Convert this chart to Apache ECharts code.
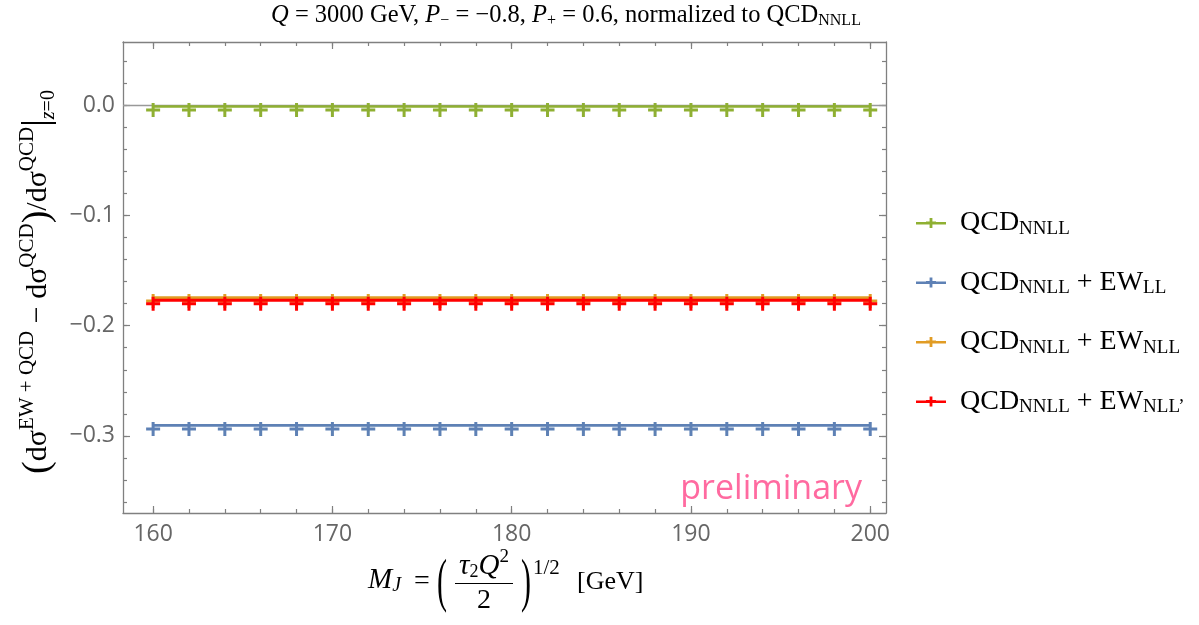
<!DOCTYPE html>
<html>
<head>
<meta charset="utf-8">
<script src="https://cdn.jsdelivr.net/npm/echarts@6/dist/echarts.min.js"></script>
<style>html,body{margin:0;padding:0;background:#fff}#c{width:1199px;height:625px}</style>
</head>
<body>
<div id="c"></div>
<script>
// ---- data ----
const xValues = [160,162,164,166,168,170,172,174,176,178,180,182,184,186,188,190,192,194,196,198,200];
const qcdNNLL      = [-0.001,-0.001,-0.001,-0.001,-0.001,-0.001,-0.001,-0.001,-0.001,-0.001,-0.001,-0.001,-0.001,-0.001,-0.001,-0.001,-0.001,-0.001,-0.001,-0.001,-0.001];
const qcdEWLL      = [-0.2905,-0.2905,-0.2905,-0.2905,-0.2905,-0.2905,-0.2905,-0.2905,-0.2905,-0.2905,-0.2905,-0.2905,-0.2905,-0.2905,-0.2905,-0.2905,-0.2905,-0.2905,-0.2905,-0.2905,-0.2905];
const qcdEWNLL     = [-0.1745,-0.1745,-0.1745,-0.1745,-0.1745,-0.1745,-0.1745,-0.1745,-0.1745,-0.1745,-0.1745,-0.1745,-0.1745,-0.1745,-0.1745,-0.1745,-0.1745,-0.1745,-0.1745,-0.1745,-0.1745];
const qcdEWNLLp    = [-0.177,-0.177,-0.177,-0.177,-0.177,-0.177,-0.177,-0.177,-0.177,-0.177,-0.177,-0.177,-0.177,-0.177,-0.177,-0.177,-0.177,-0.177,-0.177,-0.177,-0.177];
const seriesNames  = ['QCD_NNLL','QCD_NNLL+EW_LL','QCD_NNLL+EW_NLL',"QCD_NNLL+EW_NLL'"];
const xMajorTicks  = [160,170,180,190,200];
const xMinorTicks  = [160,162,164,166,168,170,172,174,176,178,180,182,184,186,188,190,192,194,196,198,200];
const yMajorTicks  = [0,-0.1,-0.2,-0.3];
const yMinorTicks  = [0.04,0.02,0,-0.02,-0.04,-0.06,-0.08,-0.1,-0.12,-0.14,-0.16,-0.18,-0.2,-0.22,-0.24,-0.26,-0.28,-0.3,-0.32,-0.34,-0.36];

// ---- style ----
const SERIF = '"Liberation Serif", "DejaVu Serif", serif';
const SANS = '"Open Sans", "Noto Sans", sans-serif';
const colors = ['#8fb032','#5e81b5','#e19c24','#ff0000'];
const frameColor = '#808080';
const plusPath = 'path://M0,5.5H14V8.5H0Z M5.5,0H8.5V14H5.5Z';
const legendIcon = 'path://M0,4H30V6.4H0Z M13.6,0H16.4V10H13.6Z M10,3.4H20V4.4H10Z';

const chart = echarts.init(document.getElementById('c'), null, {renderer:'canvas'});

function xAx(pos, ticks, len, labels, line) {
  return {
    type:'value', position:pos, min:158.32, max:200.88,
    axisLine:{show:line, onZero:false, lineStyle:{color:frameColor, width:1.3}},
    axisTick:{show:true, inside:true, length:len, customValues:ticks, lineStyle:{color:frameColor, width:1.2}},
    axisLabel:{show:labels, customValues:ticks, color:'#666', fontFamily:SANS, fontSize:23, margin:10},
    splitLine:{show:false}
  };
}
function yAx(pos, ticks, len, labels, line) {
  return {
    type:'value', position:pos, min:-0.37, max:0.0575,
    axisLine:{show:line, onZero:false, lineStyle:{color:frameColor, width:1.3}},
    axisTick:{show:true, inside:true, length:len, customValues:ticks, lineStyle:{color:frameColor, width:1.2}},
    axisLabel:{show:labels, customValues:ticks, color:'#666', fontFamily:SANS, fontSize:23, margin:8,
      formatter: v => (Math.abs(v) < 1e-9 ? '0.0' : (v < 0 ? '\u2212' : '') + Math.abs(v).toFixed(1))},
    splitLine:{show:false}
  };
}

const seriesData = [qcdNNLL, qcdEWLL, qcdEWNLL, qcdEWNLLp];
const series = seriesData.map((vals, i) => ({
  name: seriesNames[i],
  type:'line',
  data: xValues.map((x, j) => [x, vals[j]]),
  symbol: plusPath, symbolSize: 14, symbolOffset:[0, 3.5], showAllSymbol:true,
  lineStyle:{color:colors[i], width: i === 3 ? 3 : 2.6},
  itemStyle:{color:colors[i]},
  z: 2 + i,
  animation:false,
  markLine: i === 0 ? {silent:true, symbol:'none', label:{show:false}, animation:false,
     lineStyle:{color:'#999', width:1.4, type:'solid'}, data:[{yAxis:0}], z:1} : undefined
}));

const legendRich = {
  g:{fontFamily:SERIF, fontSize:28, color:'#000', padding:[0,0,0,9]},
  n:{fontFamily:SERIF, fontSize:28, color:'#000'},
  s:{fontFamily:SERIF, fontSize:19, color:'#000', padding:[12,0,0,0]}
};
const legendText = {
  'QCD_NNLL':'{g|QCD}{s|NNLL}',
  'QCD_NNLL+EW_LL':'{g|QCD}{s|NNLL}{n| + EW}{s|LL}',
  'QCD_NNLL+EW_NLL':'{g|QCD}{s|NNLL}{n| + EW}{s|NLL}',
  "QCD_NNLL+EW_NLL'":'{g|QCD}{s|NNLL}{n| + EW}{s|NLL\u2019}'
};

function txt(text, x, y, size, opts) {
  opts = opts || {};
  return {type:'text', x:x, y:y, silent:true, scaleX:opts.sx||1, scaleY:opts.sy||1,
    style:Object.assign({text:text, fontFamily:SERIF, fontSize:size, fill:'#000',
      align:opts.align||'left', verticalAlign:'middle', fontStyle:opts.italic?'italic':'normal', rich:opts.rich}, opts.style||{})};
}

const mathRich = {
  i:{fontFamily:SERIF, fontSize:29, fontStyle:'italic', color:'#000'},
  n:{fontFamily:SERIF, fontSize:28, color:'#000'},
  s:{fontFamily:SERIF, fontSize:18, color:'#000', padding:[12,0,0,0]},
  si:{fontFamily:SERIF, fontSize:20, fontStyle:'italic', color:'#000', padding:[12,0,0,0]},
  p:{fontFamily:SERIF, fontSize:19, color:'#000', padding:[0,0,18,0]}
};
const yRich = {
  n:{fontFamily:SERIF, fontSize:30, color:'#000'},
  b:{fontFamily:SERIF, fontSize:38, color:'#000'},
  p:{fontFamily:SERIF, fontSize:21, color:'#000', padding:[0,0,22,0]},
  s:{fontFamily:SERIF, fontSize:20, color:'#000', padding:[22,0,0,0]},
  si:{fontFamily:SERIF, fontSize:20, fontStyle:'italic', color:'#000', padding:[22,0,0,0]}
};
const titleRich = {
  n:{fontFamily:SERIF, fontSize:24.5, color:'#000'},
  i:{fontFamily:SERIF, fontSize:24.5, fontStyle:'italic', color:'#000'},
  s:{fontFamily:SERIF, fontSize:16, color:'#000', padding:[10,0,0,0]}
};

const option = {
  backgroundColor:'#fff',
  animation:false,
  grid:{left:123, right:313, top:42, bottom:112, containLabel:false},
  xAxis:[
    xAx('bottom', xMajorTicks, 7, true, true),
    xAx('bottom', xMinorTicks, 4, false, false),
    xAx('top', xMajorTicks, 7, false, true),
    xAx('top', xMinorTicks, 4, false, false)
  ],
  yAxis:[
    yAx('left', yMajorTicks, 7, true, true),
    yAx('left', yMinorTicks, 4, false, false),
    yAx('right', yMajorTicks, 7, false, true),
    yAx('right', yMinorTicks, 4, false, false)
  ],
  legend:{
    orient:'vertical', left:916, top:208, padding:0, itemWidth:30, itemHeight:10, itemGap:29,
    icon: legendIcon, selectedMode:false,
    data: seriesNames.map(n => ({name:n, icon:legendIcon})),
    formatter: name => legendText[name],
    textStyle:{fontFamily:SERIF, fontSize:28, color:'#000', lineHeight:30, rich:legendRich}
  },
  series: series,
  graphic:[
    // title
    txt('{i|Q}{n| = 3000 GeV, }{i|P}{s|\u2212}{n| = \u22120.8, }{i|P}{s|+}{n| = 0.6, normalized to QCD}{s|NNLL}', 566, 16, 24.5, {align:'center', rich:titleRich}),
    // y label
    {type:'text', x:38, y:282, rotation:Math.PI/2, silent:true,
      style:{text:'{b|(}{n|d\u03c3}{p|EW + QCD}{n| \u2212 d\u03c3}{p|QCD}{b|)}{n|/d\u03c3}{p|QCD}{b||}{si|z}{s|=0}',
        align:'center', verticalAlign:'middle', rich:yRich, fontFamily:SERIF, fontSize:30}},
    // x label
    txt('{i|M}{si|J}', 368, 580, 29, {rich:mathRich}),
    txt('=', 414, 582, 28),
    txt('(', 437, 584, 30, {sy:2.0}),
    txt('{i|\u03c4}{s|2}{i|Q}{p|2}', 484, 566, 28, {align:'center', rich:mathRich}),
    {type:'line', silent:true, shape:{x1:455, y1:583.5, x2:513, y2:583.5}, style:{stroke:'#000', lineWidth:1.2}},
    txt('2', 484, 601, 28, {align:'center'}),
    txt(')', 521, 584, 30, {sy:2.0}),
    txt('1/2', 533, 568, 21),
    txt('[GeV]', 577, 582, 26),
    // preliminary
    {type:'text', x:862, y:489, silent:true,
      style:{text:'preliminary', fontFamily:SANS, fontSize:34, fill:'#ff6aa0', align:'right', verticalAlign:'middle'}}
  ]
};
chart.setOption(option);
</script>
</body>
</html>
